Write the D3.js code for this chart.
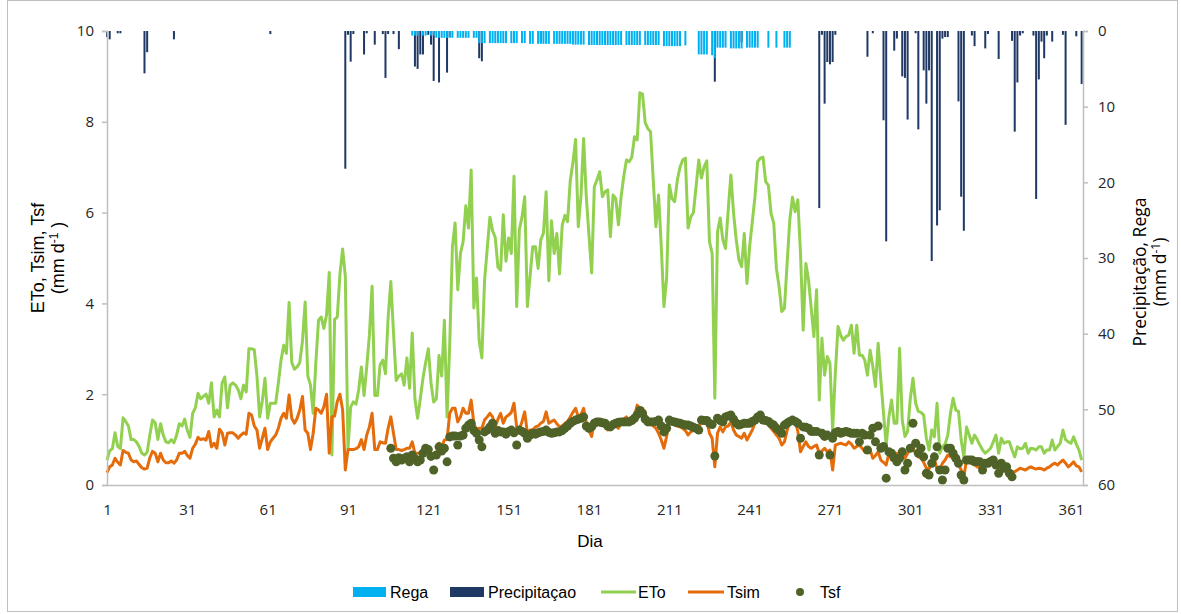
<!DOCTYPE html>
<html>
<head>
<meta charset="utf-8">
<script src="https://cdn.jsdelivr.net/npm/d3@7"></script>
<style>
  body { margin: 0; background: #fff; }
  svg { display: block; }
</style>
</head>
<body>
<svg id="svg"></svg>
<script>
// daily ETo (mm/d), days 1..365
const eto = [
  0.55,0.75,0.8,1.15,0.85,0.8,1.48,1.4,1.3,1.0,
  1.0,0.95,0.85,0.7,0.66,0.72,1.1,1.43,1.37,1.0,
  1.35,1.1,0.95,0.93,1.0,0.93,1.1,1.35,1.3,1.45,
  1.2,1.05,1.58,1.7,2.02,1.9,1.95,2.0,1.8,2.25,
  1.5,1.65,1.5,2.25,2.38,1.7,2.2,2.25,2.2,2.1,
  1.9,2.2,2.05,3.0,3.0,2.98,2.4,1.5,1.85,2.35,
  1.47,1.8,1.8,1.8,2.25,2.75,3.08,2.9,4.02,2.7,
  2.55,2.6,2.7,3.17,4.03,2.4,2.2,1.58,2.7,3.63,
  3.7,3.45,3.75,4.68,0.66,3.65,3.7,4.65,5.2,4.6,
  0.8,1.72,1.83,1.78,2.1,2.6,1.97,2.6,3.3,4.38,
  1.97,1.97,2.65,2.75,2.45,3.7,4.48,3.35,2.3,2.4,
  2.45,2.2,2.8,2.13,3.35,1.9,1.47,1.9,2.35,2.7,
  3.0,2.25,1.83,1.9,2.85,2.4,3.63,1.5,3.1,5.25,
  5.77,4.3,5.1,5.36,6.15,5.66,6.94,3.9,4.56,3.17,
  2.8,4.5,5.2,5.9,5.6,5.45,4.8,4.73,5.95,4.93,
  5.44,5.1,6.8,3.93,5.63,5.9,6.35,3.93,4.6,5.25,
  5.25,4.77,5.4,5.55,6.46,4.5,5.82,5.1,5.54,4.65,
  5.72,5.94,5.8,6.7,7.1,7.61,5.69,6.35,7.63,6.35,
  5.5,4.67,6.57,6.72,6.9,6.35,6.46,6.5,5.47,6.39,
  6.31,5.73,6.35,6.8,7.16,7.12,7.22,7.67,7.6,8.64,
  8.61,7.98,7.85,7.78,6.72,5.69,6.39,5.25,3.93,4.55,
  6.61,6.31,6.24,6.72,7.0,7.16,7.2,5.66,5.9,6.0,
  6.57,7.16,6.76,7.01,7.14,5.36,5.1,1.91,5.58,5.88,
  5.4,5.21,6.06,6.83,5.99,5.4,4.96,4.81,5.54,4.44,
  5.25,5.8,6.35,7.12,7.2,7.22,6.68,6.6,5.98,5.77,
  4.77,4.37,3.82,3.89,4.88,5.84,6.34,6.02,6.28,5.1,
  3.41,4.88,4.52,3.89,3.27,4.3,1.87,3.23,2.42,2.83,
  2.68,1.21,2.46,3.49,3.3,3.19,3.27,3.3,3.52,2.9,
  3.52,2.86,2.86,2.75,2.42,2.97,2.61,2.17,3.12,2.31,
  1.58,0.88,1.5,1.87,1.36,1.36,3.01,1.43,1.07,1.18,
  1.9,2.35,1.8,1.62,1.6,1.54,1.03,0.77,1.21,1.06,
  1.8,0.7,0.84,0.9,1.1,1.58,1.91,1.65,1.62,0.99,
  0.62,1.28,1.1,0.92,1.1,1.0,0.88,0.77,0.7,0.75,
  0.81,0.95,1.1,0.7,1.03,0.92,0.95,0.95,0.77,0.62,
  0.84,0.8,0.81,0.92,0.7,0.81,0.8,0.77,0.84,0.84,
  0.7,0.77,0.77,0.99,0.77,0.85,0.92,1.21,1.0,0.95,
  0.92,1.06,0.9,0.77,0.55
];

// daily simulated transpiration Tsim (mm/d)
const tsim = [
  0.27,0.4,0.44,0.59,0.5,0.44,0.76,0.72,0.7,0.55,
  0.51,0.53,0.45,0.38,0.35,0.37,0.6,0.74,0.7,0.51,
  0.7,0.55,0.49,0.49,0.53,0.48,0.55,0.7,0.7,0.74,
  0.65,0.59,0.81,0.9,1.05,1.0,1.02,0.99,1.18,0.84,
  0.92,0.81,1.23,1.15,0.88,1.14,1.15,1.15,1.1,1.03,
  1.1,1.15,1.12,1.58,1.54,1.3,1.21,0.81,1.03,1.25,
  0.78,0.95,1.03,1.1,1.25,1.47,1.58,1.47,1.98,1.47,
  1.36,1.47,1.65,1.95,1.21,1.14,0.78,1.14,1.69,1.65,
  1.58,1.72,2.0,0.7,1.5,1.52,1.84,2.0,1.65,0.33,
  0.78,0.78,0.78,0.8,0.84,1.0,0.78,1.1,1.28,1.58,
  0.78,0.78,0.95,0.93,0.92,1.25,1.5,1.14,0.78,0.78,
  0.76,0.78,0.81,0.81,0.95,0.7,0.7,0.7,0.73,0.78,
  0.78,0.7,0.66,0.66,0.92,0.84,0.99,1.0,1.58,1.69,
  1.69,1.39,1.5,1.69,1.58,1.58,1.87,1.36,1.21,1.25,
  1.25,1.43,1.5,1.58,1.5,1.28,1.45,1.58,1.36,1.5,
  1.54,1.6,1.8,1.28,1.21,1.4,1.61,1.14,1.21,1.21,
  1.28,1.3,1.36,1.4,1.61,1.36,1.4,1.43,1.35,1.28,
  1.3,1.36,1.4,1.5,1.6,1.69,1.5,1.55,1.69,1.36,
  1.2,1.07,1.43,1.36,1.32,1.35,1.39,1.21,1.3,1.36,
  1.3,1.25,1.36,1.45,1.5,1.39,1.45,1.5,1.76,1.69,
  1.69,1.58,1.36,1.36,1.3,1.25,1.14,0.99,0.81,1.07,
  1.43,1.36,1.32,1.3,1.28,1.25,1.2,1.1,1.17,1.2,
  1.25,1.3,1.36,1.4,1.43,1.14,1.03,0.4,1.14,1.28,
  1.17,1.28,1.3,1.39,1.21,1.1,1.07,1.03,1.14,0.99,
  1.1,1.21,1.36,1.45,1.58,1.47,1.4,1.36,1.25,1.18,
  1.1,1.03,0.88,0.95,1.2,1.4,1.42,1.43,1.18,0.73,
  0.85,0.95,0.85,0.81,0.85,0.88,0.7,0.75,0.81,0.73,
  0.77,0.33,0.88,0.9,0.92,0.9,0.88,0.95,0.9,0.81,
  0.85,0.88,0.81,0.73,0.75,0.77,0.59,0.65,0.73,0.55,
  0.5,0.44,0.7,0.55,0.62,0.7,0.51,0.62,0.59,0.7,
  0.8,0.81,0.7,0.62,0.59,0.5,0.37,0.35,0.5,0.59,
  0.33,0.33,0.48,0.55,0.66,0.62,0.6,0.55,0.45,0.33,
  0.18,0.55,0.5,0.48,0.45,0.4,0.38,0.37,0.42,0.44,
  0.46,0.48,0.4,0.38,0.33,0.38,0.4,0.33,0.3,0.29,
  0.33,0.37,0.35,0.33,0.37,0.4,0.37,0.35,0.37,0.36,
  0.33,0.37,0.4,0.45,0.48,0.44,0.5,0.55,0.48,0.4,
  0.45,0.51,0.42,0.4,0.29
];

// sap flow transpiration Tsf (measured days only)
const tsfDays = [
  107,108,109,110,111,112,113,114,115,116,117,118,119,120,121,122,123,124,125,126,127,128,129,130,
  131,132,133,134,135,136,137,138,139,140,141,142,143,144,145,146,147,148,149,150,151,152,153,154,
  155,156,157,158,159,160,161,162,163,164,165,166,167,168,169,170,171,172,173,174,175,176,177,178,
  179,180,181,182,183,184,185,186,187,188,189,190,191,192,193,194,195,196,197,198,199,200,201,202,
  203,204,205,206,207,208,209,210,211,212,213,214,215,216,217,218,219,220,221,222,223,224,225,226,
  227,228,229,230,231,232,233,234,235,236,237,238,239,240,241,242,243,244,245,246,247,248,249,250,
  251,252,253,254,255,256,257,258,259,260,261,262,263,264,265,266,267,268,269,270,271,272,273,274,
  275,276,277,278,279,280,281,282,283,284,285,286,287,288,289,290,291,292,293,294,295,296,297,298,
  299,300,301,302,303,304,305,306,307,308,309,310,311,312,313,314,315,316,317,318,319,320,321,322,
  323,324,325,326,327,328,329,330,331,332,333,334,335,336,337,338,339
];
const tsfVals = [
  0.81,0.59,0.51,0.6,0.55,0.59,0.62,0.51,0.66,0.58,0.51,0.55,0.7,0.81,0.78,0.63,0.33,0.66,0.84,0.75,0.81,0.51,1.06,1.08,
  1.08,0.88,1.08,1.1,1.25,1.32,1.36,1.2,1.14,0.99,0.84,1.17,1.21,1.28,1.36,1.14,1.2,1.17,1.17,1.12,1.18,1.21,1.15,0.88,
  1.21,1.18,1.14,1.03,1.1,1.14,1.12,1.15,1.17,1.18,1.21,1.16,1.14,1.15,1.17,1.17,1.2,1.25,1.3,1.36,1.4,1.43,1.45,1.47,
  1.5,1.3,1.25,1.28,1.36,1.39,1.39,1.37,1.36,1.3,1.28,1.33,1.36,1.38,1.39,1.39,1.39,1.39,1.42,1.47,1.55,1.64,1.58,1.45,
  1.39,1.39,1.39,1.4,1.43,1.3,1.17,1.25,1.43,1.4,1.39,1.37,1.36,1.34,1.32,1.32,1.3,1.27,1.25,1.21,1.43,1.42,1.42,1.36,
  1.33,0.64,1.47,1.42,1.39,1.5,1.52,1.54,1.45,1.36,1.32,1.34,1.36,1.36,1.36,1.4,1.43,1.5,1.54,1.43,1.42,1.4,1.35,1.32,
  1.25,1.2,1.14,1.32,1.36,1.4,1.43,1.4,1.36,1.03,1.28,1.27,1.25,1.18,1.18,1.18,0.66,1.14,1.07,1.1,0.66,1.03,1.15,1.18,
  1.14,1.16,1.18,1.16,1.14,1.14,1.14,0.95,1.14,1.1,0.77,1.1,1.25,0.95,1.3,0.81,0.85,0.15,0.73,0.7,0.6,0.51,0.59,0.73,
  0.33,0.48,0.81,1.36,0.92,0.7,0.81,0.62,0.26,0.22,0.48,0.62,0.84,0.33,0.11,0.33,0.81,0.81,0.7,0.59,0.48,0.22,0.11,0.55,
  0.55,0.55,0.51,0.52,0.51,0.33,0.48,0.48,0.52,0.55,0.44,0.26,0.48,0.37,0.4,0.26,0.18
];

// precipitation (mm/d), right axis
const precipDays = [1,2,5,6,15,16,26,62,90,91,92,93,97,98,101,104,105,106,108,110,116,117,118,119,121,122,123,125,128,129,
  140,141,163,228,238,267,268,269,270,271,272,273,285,287,291,292,295,296,298,299,300,303,304,306,307,308,309,311,312,
  313,314,315,319,320,321,324,325,329,330,334,339,340,341,342,343,347,348,349,350,351,352,354,358,359,363,365];
const precipMm = [0.8,1.1,0.3,0.3,5.6,2.8,1.1,0.4,18.2,0.5,4.05,0.4,3.1,0.3,1.8,0.4,6.2,0.4,0.4,2.4,4.7,5.0,3.1,3.1,0.5,1.8,6.6,6.8,5.5,0.8,
  3.6,4.0,1.5,6.7,1.5,23.4,0.5,9.6,4.1,4.4,4.1,0.5,3.4,0.3,11.8,27.8,2.6,1.0,6.0,6.2,11.7,0.3,13.0,5.2,9.6,5.2,30.4,25.7,23.7,
  1.0,0.8,0.8,9.3,21.9,26.4,0.6,2.0,2.3,0.4,3.7,1.3,13.3,6.8,0.6,0.3,0.6,22.2,6.4,1.4,3.6,0.6,1.4,0.5,12.4,0.7,7.0];

// irrigation (mm/d), right axis
const regaDays = [115,116,117,119,120,122,123,
  124,125,126,127,128,129,130,132,133,134,135,136,138,139,
  140,141,142,144,145,146,147,148,149,150,152,153,154,156,157,
  159,160,162,163,164,165,166,168,169,170,171,172,173,174,
  175,176,177,178,179,
  181,182,183,184,185,186,187,188,189,190,191,192,193,
  195,196,197,198,199,200,202,203,204,205,206,207,
  209,210,211,212,213,214,215,217,
  222,223,224,225,227,228,229,230,231,232,
  234,235,236,237,238,240,241,242,243,244,248,251,254,255,256];
const regaMm = [0.6,0.6,0.6,0.6,0.6,0.6,0.6,
  0.9,0.9,0.9,0.9,0.9,0.9,0.9,0.9,0.9,0.9,0.9,0.9,0.9,0.9,
  1.6,1.6,1.6,1.6,1.6,1.6,1.6,1.6,1.6,1.6,1.6,1.6,1.6,1.6,1.6,
  1.7,1.7,1.7,1.7,1.7,1.7,1.7,1.7,1.7,1.7,1.7,1.7,1.7,1.7,
  1.8,1.8,1.8,1.8,1.8,
  1.85,1.85,1.85,1.85,1.85,1.85,1.85,1.85,1.85,1.85,1.85,1.85,1.85,
  1.85,1.85,1.85,1.85,1.85,1.85,1.85,1.85,1.85,1.85,1.85,1.85,
  2.0,2.0,2.0,2.0,2.0,2.0,2.0,1.9,
  3.1,3.1,3.1,3.1,3.2,3.6,2.2,2.2,2.2,2.2,
  2.3,2.3,2.3,2.3,2.3,2.2,2.2,2.2,2.2,2.2,2.2,2.2,2.2,2.2,2.2];

const dayTicks = [1,31,61,91,121,151,181,211,241,271,301,331,361];
const leftTicks = [0,2,4,6,8,10];
const rightTicks = [0,10,20,30,40,50,60];

const W = 1181, H = 614;
const margin = { top: 31, right: 98, bottom: 129, left: 107 };
const plotW = W - margin.left - margin.right;   // 976
const plotH = H - margin.top - margin.bottom;   // 454

const svg = d3.select('#svg').attr('width', W).attr('height', H);

// outer frame
svg.append('rect')
  .attr('x', 7.5).attr('y', 0.5)
  .attr('width', 1170).attr('height', 611)
  .attr('fill', 'none')
  .attr('stroke', '#bfbfbf');

const g = svg.append('g').attr('transform', `translate(${margin.left},${margin.top})`);

// SCALES
const x = d3.scaleLinear().domain([1, 365.5]).range([0, plotW]);
const yL = d3.scaleLinear().domain([0, 10]).range([plotH, 0]);
const yR = d3.scaleLinear().domain([0, 60]).range([0, plotH]);
const barW = 2;

// BARS (hanging from the top, right axis)
g.append('g').selectAll('rect')
  .data(precipDays.map((d, i) => ({ day: d, v: precipMm[i] })))
  .enter().append('rect')
  .attr('x', d => x(d.day) - barW / 2)
  .attr('y', yR(0))
  .attr('width', barW)
  .attr('height', d => yR(d.v) - yR(0))
  .attr('fill', '#1f3864');

g.append('g').selectAll('rect')
  .data(regaDays.map((d, i) => ({ day: d, v: regaMm[i] })))
  .enter().append('rect')
  .attr('x', d => x(d.day) - barW / 2)
  .attr('y', yR(0))
  .attr('width', barW)
  .attr('height', d => yR(d.v) - yR(0))
  .attr('fill', '#00b0f0');

// LINES
const line = d3.line().x((d, i) => x(i + 1)).y(d => yL(d));

g.append('path')
  .datum(eto)
  .attr('d', line)
  .attr('fill', 'none')
  .attr('stroke', '#92d050')
  .attr('stroke-width', 3)
  .attr('stroke-linejoin', 'round');

g.append('path')
  .datum(tsim)
  .attr('d', line)
  .attr('fill', 'none')
  .attr('stroke', '#e46c0a')
  .attr('stroke-width', 3)
  .attr('stroke-linejoin', 'round');

// Tsf points
g.append('g').selectAll('circle')
  .data(tsfDays.map((d, i) => ({ day: d, v: tsfVals[i] })))
  .enter().append('circle')
  .attr('cx', d => x(d.day))
  .attr('cy', d => yL(d.v))
  .attr('r', 4.5)
  .attr('fill', '#4f6228');

// AXES
const tickFont = '"Open Sans", sans-serif';

const xAxis = g.append('g')
  .attr('transform', `translate(0,${plotH})`)
  .call(d3.axisBottom(x).tickValues(dayTicks).tickSize(0).tickPadding(19));

const leftAxis = g.append('g')
  .call(d3.axisLeft(yL).tickValues(leftTicks).tickSize(5).tickPadding(8));

const rightAxis = g.append('g')
  .attr('transform', `translate(${plotW},0)`)
  .call(d3.axisRight(yR).tickValues(rightTicks).tickSize(5).tickPadding(10));

[xAxis, leftAxis, rightAxis].forEach(ax => {
  ax.select('.domain').attr('stroke', '#bfbfbf').attr('stroke-width', 1.5);
  ax.selectAll('.tick line').attr('stroke', '#bfbfbf').attr('stroke-width', 1.5);
  ax.selectAll('.tick text')
    .attr('font-family', tickFont)
    .attr('font-size', '15px')
    .attr('fill', '#262626');
});

// AXIS TITLES
svg.append('text')
  .attr('x', margin.left + plotW / 2 - 5)
  .attr('y', 547)
  .attr('text-anchor', 'middle')
  .attr('font-family', 'Arial, "Liberation Sans", sans-serif')
  .attr('font-size', '17px')
  .attr('fill', '#000')
  .text('Dia');

const leftTitle = svg.append('text')
  .attr('transform', 'translate(44,258) rotate(-90)')
  .attr('text-anchor', 'middle')
  .attr('font-family', 'Arial, "Liberation Sans", sans-serif')
  .attr('font-size', '18px')
  .attr('fill', '#000');
leftTitle.append('tspan').attr('x', 0).attr('y', 0).text('ETo, Tsim, Tsf');
const lt2 = leftTitle.append('tspan').attr('x', 0).attr('y', 20).text('(mm d');
lt2.append('tspan').attr('dy', -6).attr('font-size', '12px').text('-1');
lt2.append('tspan').attr('dy', 6).text(' )');

const rightTitle = svg.append('text')
  .attr('transform', 'translate(1146,272) rotate(-90)')
  .attr('text-anchor', 'middle')
  .attr('font-family', '"Open Sans", sans-serif')
  .attr('font-size', '17.5px')
  .attr('fill', '#000');
rightTitle.append('tspan').attr('x', 0).attr('y', 0).text('Precipitação, Rega');
const rt2 = rightTitle.append('tspan').attr('x', 0).attr('y', 20).text('(mm d');
rt2.append('tspan').attr('dy', -6).attr('font-size', '12px').text('-1');
rt2.append('tspan').attr('dy', 6).text(')');

// LEGEND
const legendY = 592;
const legend = svg.append('g')
  .attr('font-family', 'Arial, "Liberation Sans", sans-serif')
  .attr('font-size', '16px');

legend.append('rect').attr('x', 353).attr('y', legendY - 5).attr('width', 33).attr('height', 10).attr('fill', '#00b0f0');
legend.append('text').attr('x', 390).attr('y', legendY + 6).text('Rega');

legend.append('rect').attr('x', 450).attr('y', legendY - 5).attr('width', 34).attr('height', 10).attr('fill', '#1f3864');
legend.append('text').attr('x', 488).attr('y', legendY + 6).text('Precipitaçao');

legend.append('line').attr('x1', 601).attr('x2', 636).attr('y1', legendY).attr('y2', legendY)
  .attr('stroke', '#92d050').attr('stroke-width', 3);
legend.append('text').attr('x', 638).attr('y', legendY + 6).text('ETo');

legend.append('line').attr('x1', 688).attr('x2', 724).attr('y1', legendY).attr('y2', legendY)
  .attr('stroke', '#e46c0a').attr('stroke-width', 3);
legend.append('text').attr('x', 727).attr('y', legendY + 6).text('Tsim');

legend.append('circle').attr('cx', 800).attr('cy', legendY).attr('r', 4).attr('fill', '#4f6228');
legend.append('text').attr('x', 820).attr('y', legendY + 6).text('Tsf');
</script>
</body>
</html>
